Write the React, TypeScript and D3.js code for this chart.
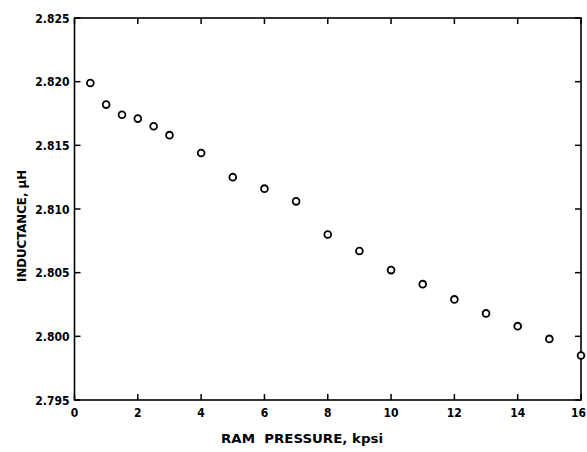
import React from "react";
import * as d3 from "d3";

// ram pressure (kpsi) and measured inductance (uH)
const pressure = [0.5, 1, 1.5, 2, 2.5, 3, 4, 5, 6, 7, 8, 9, 10, 11, 12, 13, 14, 15, 16];
const inductance = [
  2.8199, 2.8182, 2.8174, 2.8171, 2.8165, 2.8158, 2.8144, 2.8125, 2.8116, 2.8106,
  2.8080, 2.8067, 2.8052, 2.8041, 2.8029, 2.8018, 2.8008, 2.7998, 2.7985,
];
const xTicks = [0, 2, 4, 6, 8, 10, 12, 14, 16];
const yTicks = [2.795, 2.8, 2.805, 2.81, 2.815, 2.82, 2.825];

const width = 587;
const height = 452;
const margins = { top: 18, right: 6, bottom: 52, left: 74.5 };
const font = "'DejaVu Sans Condensed', 'DejaVu Sans', sans-serif";

const App = () => {
  const xScale = d3
    .scaleLinear()
    .domain([0, 16])
    .range([margins.left, width - margins.right]);

  const yScale = d3
    .scaleLinear()
    .domain([2.795, 2.825])
    .range([height - margins.bottom, margins.top]);

  const [x0, x1] = xScale.range();
  const [y0, y1] = yScale.range();
  const tickLen = 6;

  return (
    <svg
      width={width}
      height={height}
      style={{ position: "absolute", left: 0, top: 0, background: "#fff" }}
    >
      <rect
        x={x0}
        y={y1}
        width={x1 - x0}
        height={y0 - y1}
        fill="none"
        stroke="#000"
        strokeWidth={1.6}
      />

      {/* x ticks, bottom and top, pointing inward */}
      {xTicks.map((t) => {
        // the last label would run off the page, so keep it inside
        const last = xScale(t) + 8 > width;
        return (
          <g key={`x${t}`}>
            <line x1={xScale(t)} x2={xScale(t)} y1={y0} y2={y0 - tickLen} stroke="#000" strokeWidth={1.5} />
            <line x1={xScale(t)} x2={xScale(t)} y1={y1} y2={y1 + tickLen} stroke="#000" strokeWidth={1.5} />
            <text
              x={last ? width - 1 : xScale(t)}
              y={y0 + 17}
              textAnchor={last ? "end" : "middle"}
              fontFamily={font}
              fontWeight="bold"
              fontSize={12}
            >
              {t}
            </text>
          </g>
        );
      })}

      {/* y ticks, left and right */}
      {yTicks.map((t) => (
        <g key={`y${t}`}>
          <line x1={x0} x2={x0 + tickLen} y1={yScale(t)} y2={yScale(t)} stroke="#000" strokeWidth={1.5} />
          <line x1={x1} x2={x1 - tickLen} y1={yScale(t)} y2={yScale(t)} stroke="#000" strokeWidth={1.5} />
          <text
            x={x0 - 5}
            y={yScale(t) + 4.5}
            textAnchor="end"
            fontFamily={font}
            fontWeight="bold"
            fontSize={12}
          >
            {d3.format(".3f")(t)}
          </text>
        </g>
      ))}

      <g>
        {pressure.map((p, i) => (
          <circle
            key={p}
            cx={xScale(p)}
            cy={yScale(inductance[i])}
            r={3.4}
            fill="#fff"
            stroke="#000"
            strokeWidth={1.8}
          />
        ))}
      </g>

      <text
        x={302}
        y={443}
        textAnchor="middle"
        fontFamily={font}
        fontWeight="bold"
        fontSize={13}
        textLength={162}
        lengthAdjust="spacingAndGlyphs"
        style={{ whiteSpace: "pre" }}
      >
        {"RAM  PRESSURE, kpsi"}
      </text>

      <text
        transform={`translate(26, 226) rotate(-90)`}
        textAnchor="middle"
        fontFamily={font}
        fontWeight="bold"
        fontSize={13}
        textLength={112}
        lengthAdjust="spacingAndGlyphs"
      >
        INDUCTANCE, μH
      </text>
    </svg>
  );
};

export default App;
